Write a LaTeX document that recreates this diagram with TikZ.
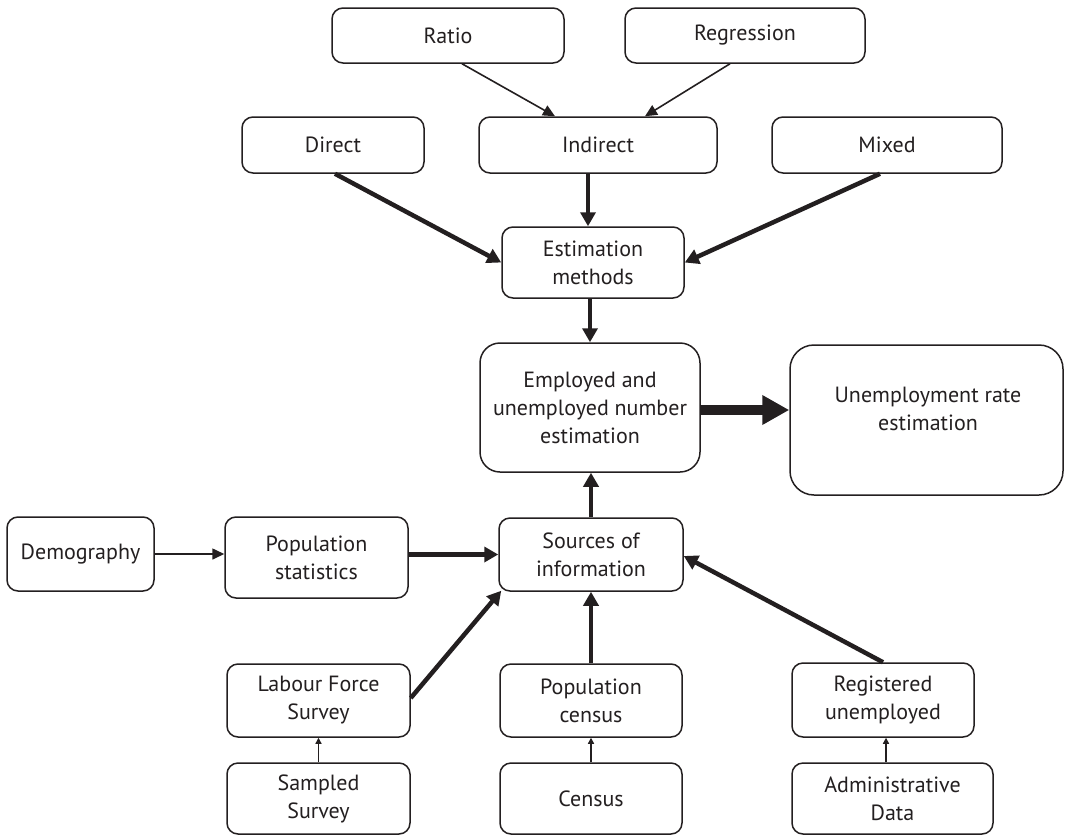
\documentclass[tikz,border=0pt]{standalone}
\usepackage{fontspec}
\setmainfont{PT Sans}
\usetikzlibrary{arrows.meta,calc}
\definecolor{ink}{RGB}{35,31,32}
\begin{document}
\begin{tikzpicture}[x=1pt,y=-1pt,
  box/.style={draw=ink, line width=1.5pt, rounded corners=11pt, align=center, inner sep=0pt, text=ink, font=\fontsize{22}{28}\selectfont},
  lbl/.style={align=center, inner sep=0pt, text=ink, font=\fontsize{22}{28}\selectfont},
  arrthin/.style={draw=ink, line width=1.6pt, -{Triangle[length=12pt,width=11pt]}},
  arrthick/.style={draw=ink, line width=4.5pt, -{Triangle[length=14pt,width=15pt]}},
  arrsmall/.style={draw=ink, line width=1.3pt, -{Triangle[length=6pt,width=6pt]}},
  arrbig/.style={draw=ink, line width=10pt, -{Triangle[length=27pt,width=28pt]}}]
\useasboundingbox (0,0) rectangle (1065,835);

% top row
\node[box, minimum width=232pt, minimum height=55pt] (ratio) at (448,35.5) {Ratio};
\node[box, minimum width=240pt, minimum height=55pt] (regr) at (745,35.5) {Regression};
% second row
\node[box, minimum width=182pt, minimum height=56pt] (direct) at (333,145) {Direct};
\node[box, minimum width=238pt, minimum height=56pt] (indirect) at (598,145) {Indirect};
\node[box, minimum width=230pt, minimum height=56pt] (mixed) at (887,145) {Mixed};
% estimation
\node[box, minimum width=182pt, minimum height=71pt] (estim) at (593,262.5) {Estimation\\methods};
% employed and rate
\node[box, rounded corners=20pt, minimum width=220pt, minimum height=129pt] (employed) at (590,407.5) {Employed and\\unemployed number\\estimation};
\node[box, rounded corners=24pt, minimum width=273pt, minimum height=150pt] (unemp) at (926.5,420) {};
\node[lbl] (unemptext) at (928,409) {Unemployment rate\\estimation};
% sources row
\node[box, minimum width=147pt, minimum height=74pt] (demog) at (80.5,554) {Demography};
\node[box, minimum width=183pt, minimum height=81pt] (popstat) at (316.5,557.5) {Population\\statistics};
\node[box, minimum width=184pt, minimum height=73pt] (sources) at (591,554.5) {Sources of\\information};
% lower rows
\node[box, minimum width=183pt, minimum height=73pt] (lfs) at (318.5,700.5) {Labour Force\\Survey};
\node[box, minimum width=182pt, minimum height=73pt] (popcens) at (591,700.5) {Population\\census};
\node[box, minimum width=182pt, minimum height=74pt] (regist) at (883,700) {Registered\\unemployed};
\node[box, minimum width=183pt, minimum height=71pt] (sampled) at (318.5,798.5) {Sampled\\Survey};
\node[box, minimum width=182pt, minimum height=71pt] (census) at (591,798.5) {Census};
\node[box, minimum width=201pt, minimum height=71pt] (admin) at (892.5,798.5) {Administrative\\Data};

% connectors
\draw[arrthin] ([xshift=14pt]ratio.south) -- ([xshift=-43pt]indirect.north);
\draw[arrthin] ([xshift=-15pt]regr.south) -- ([xshift=47pt]indirect.north);
\draw[arrthick] ([xshift=2pt]direct.south) -- (estim.west);
\draw[arrthick] ([xshift=-7pt]mixed.south) -- (estim.east);
\draw[arrthick] ([xshift=-10pt]indirect.south) -- ([xshift=-5pt]estim.north);
\draw[arrthick] ([xshift=-3pt]estim.south) -- (employed.north);
\draw[arrthick] (sources.north) -- (sources.north |- employed.south);
\draw[arrbig] ([yshift=-2.5pt]employed.east) -- ([yshift=-2.5pt]employed.east -| unemp.west);
\draw[arrthin] (demog.east) -- (demog.east -| popstat.west);
\draw[arrthick] (sources.west -| popstat.east) -- (sources.west);
\draw[arrthick] ([yshift=2.5pt]lfs.east) -- ([shift={(3pt,1pt)}]sources.south west);
\draw[arrthick] (popcens.north) -- (sources.south);
\draw[arrthick] (regist.north) -- ([yshift=-1.5pt]sources.east);
\draw[arrsmall] (sampled.north) -- (lfs.south);
\draw[arrsmall] (census.north) -- (popcens.south);
\draw[arrsmall] ([xshift=3pt]regist.south |- admin.north) -- ([xshift=3pt]regist.south);
\end{tikzpicture}
\end{document}
